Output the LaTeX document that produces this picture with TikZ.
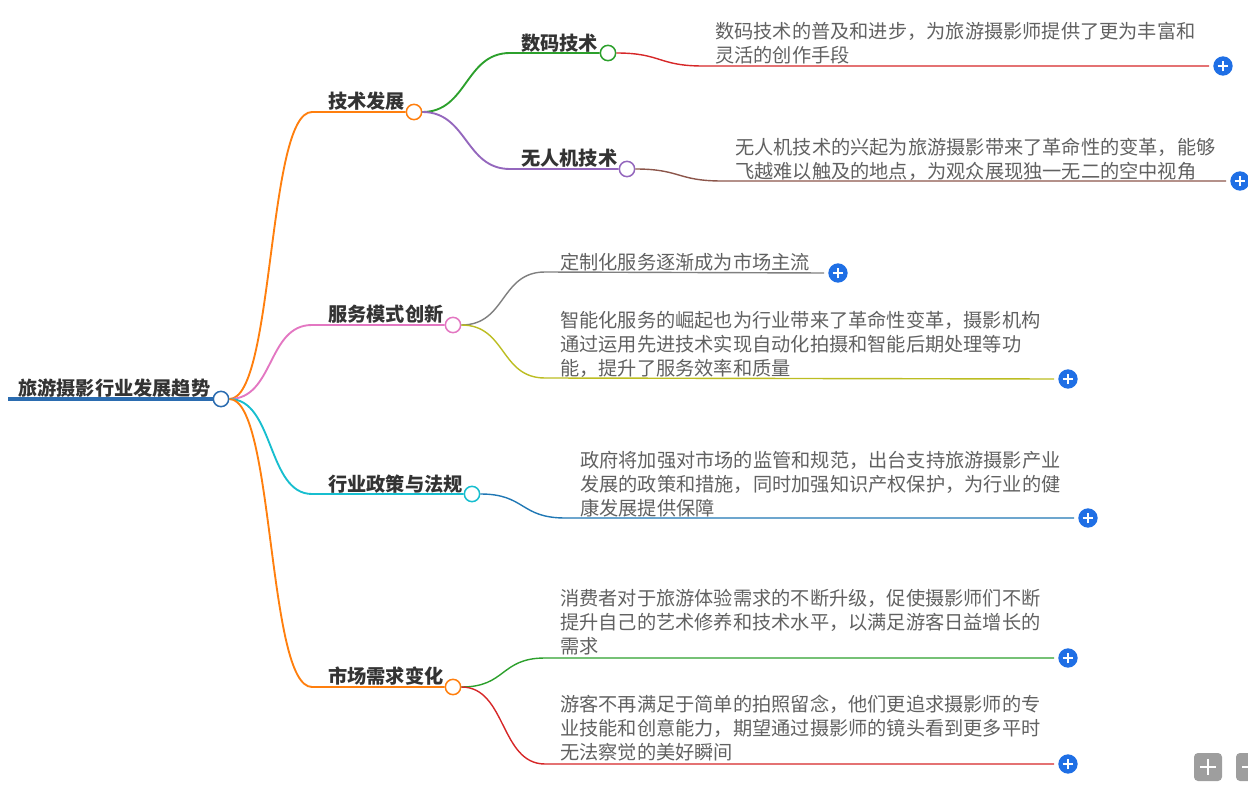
\documentclass[tikz,border=0pt]{standalone}
\usepackage{fontspec}
\setmainfont{Noto Sans CJK SC}
\usetikzlibrary{calc}
\usepackage{xcolor}
\definecolor{rootblue}{HTML}{2B6CB0}
\definecolor{corange}{HTML}{FF7F0E}
\definecolor{cpink}{HTML}{E377C2}
\definecolor{ccyan}{HTML}{17BECF}
\definecolor{cgreen}{HTML}{2CA02C}
\definecolor{cpurple}{HTML}{9467BD}
\definecolor{cred}{HTML}{D62728}
\definecolor{cbrown}{HTML}{8C564B}
\definecolor{cgray}{HTML}{7F7F7F}
\definecolor{colive}{HTML}{BCBD22}
\definecolor{cblue}{HTML}{1F77B4}
\definecolor{plusblue}{HTML}{1F6FE5}

\begin{document}
\begin{tikzpicture}[x=0.03cm, y=-0.03cm,
  every node/.style={inner sep=0pt, font=\fontsize{16.4}{20.5}\selectfont},
  topic/.style={anchor=north west, font=\fontsize{16.4}{20.5}\selectfont\bfseries, text=black!80},
  leaf/.style={anchor=north west, align=left, text=black!62},
  dot/.style={circle, draw=#1, fill=white, line width=1.3pt, minimum size=0.46cm},
  branch/.style={#1, line width=1.6pt},
  twig/.style={#1, line width=1.2pt},
  plus/.style={circle, fill=plusblue, minimum size=0.58cm,
    path picture={\draw[white, line width=1.4pt]
      ($(path picture bounding box.center)+(-0.16cm,0)$) -- ++(0.32cm,0)
      ($(path picture bounding box.center)+(0,-0.16cm)$) -- ++(0,0.32cm);}},
  btn/.style={rectangle, rounded corners=0.12cm, fill=black!38, minimum size=0.84cm}
]
  \useasboundingbox (0,0) rectangle (1248,790);

  % Root
  \node[topic] (root) at (18,379) {旅游摄影行业发展趋势};
  \coordinate (root-s) at (8,399);
  \node[dot=rootblue] (root-c) at (221,399) {};
  \draw[rootblue, line width=3.4pt] (root-s) -- (root-c.west);

  % Branches
  \node[topic] (tech) at (328,92) {技术发展};
  \coordinate (tech-s) at (312,112);
  \node[dot=corange] (tech-c) at (414,112) {};
  \draw[branch=corange] (root-c.east) .. controls +(45,0) and +(-45,0) .. (tech-s) -- (tech-c.west);

  \node[topic] (serv) at (328,305) {服务模式创新};
  \coordinate (serv-s) at (312,325);
  \node[dot=cpink] (serv-c) at (453,325) {};
  \draw[branch=cpink] (root-c.east) .. controls +(45,0) and +(-45,0) .. (serv-s) -- (serv-c.west);

  \node[topic] (policy) at (328,475) {行业政策与法规};
  \coordinate (policy-s) at (312,494);
  \node[dot=ccyan] (policy-c) at (472,494) {};
  \draw[branch=ccyan] (root-c.east) .. controls +(45,0) and +(-45,0) .. (policy-s) -- (policy-c.west);

  \node[topic] (market) at (328,667) {市场需求变化};
  \coordinate (market-s) at (312,687);
  \node[dot=corange] (market-c) at (453,687) {};
  \draw[branch=corange] (root-c.east) .. controls +(45,0) and +(-45,0) .. (market-s) -- (market-c.west);

  % Sub-branches of tech
  \node[topic] (digi) at (521,34) {数码技术};
  \coordinate (digi-s) at (510,53);
  \node[dot=cgreen] (digi-c) at (608,53) {};
  \draw[branch=cgreen] (tech-c.east) .. controls +(45,0) and +(-45,0) .. (digi-s) -- (digi-c.west);

  \node[topic] (drone) at (521,149) {无人机技术};
  \coordinate (drone-s) at (510,169);
  \node[dot=cpurple] (drone-c) at (627,169) {};
  \draw[branch=cpurple] (tech-c.east) .. controls +(45,0) and +(-45,0) .. (drone-s) -- (drone-c.west);

  % Leaves
  \node[leaf] (digi-t) at (715,22) {数码技术的普及和进步，为旅游摄影师提供了更为丰富和\\灵活的创作手段};
  \coordinate (digi-l) at (703,66);
  \node[plus] (digi-p) at (1223,66) {};
  \draw[twig=cred] (digi-c.east) .. controls +(45,0) and +(-45,0) .. (digi-l) -- ($(digi-p.west)+(-4,0)$);

  \node[leaf] (drone-t) at (735,138) {无人机技术的兴起为旅游摄影带来了革命性的变革，能够\\飞越难以触及的地点，为观众展现独一无二的空中视角};
  \coordinate (drone-l) at (722,181);
  \node[plus] (drone-p) at (1240,181) {};
  \draw[twig=cbrown] (drone-c.east) .. controls +(45,0) and +(-45,0) .. (drone-l) -- ($(drone-p.west)+(-4,0)$);

  \node[leaf] (custom-t) at (560,253) {定制化服务逐渐成为市场主流};
  \coordinate (custom-l) at (545,272);
  \node[plus] (custom-p) at (838,273) {};
  \draw[twig=cgray] (serv-c.east) .. controls +(45,0) and +(-45,0) .. (custom-l) -- ($(custom-p.west)+(-4,0)$);

  \node[leaf] (smart-t) at (560,311) {智能化服务的崛起也为行业带来了革命性变革，摄影机构\\通过运用先进技术实现自动化拍摄和智能后期处理等功\\能，提升了服务效率和质量};
  \coordinate (smart-l) at (545,378);
  \node[plus] (smart-p) at (1068,379) {};
  \draw[twig=colive] (serv-c.east) .. controls +(45,0) and +(-45,0) .. (smart-l) -- ($(smart-p.west)+(-4,0)$);

  \node[leaf] (govt-t) at (580,451) {政府将加强对市场的监管和规范，出台支持旅游摄影产业\\发展的政策和措施，同时加强知识产权保护，为行业的健\\康发展提供保障};
  \coordinate (govt-l) at (565,518);
  \node[plus] (govt-p) at (1088,518) {};
  \draw[twig=cblue] (policy-c.east) .. controls +(45,0) and +(-45,0) .. (govt-l) -- ($(govt-p.west)+(-4,0)$);

  \node[leaf] (demand-t) at (560,589) {消费者对于旅游体验需求的不断升级，促使摄影师们不断\\提升自己的艺术修养和技术水平，以满足游客日益增长的\\需求};
  \coordinate (demand-l) at (545,658);
  \node[plus] (demand-p) at (1068,658) {};
  \draw[twig=cgreen] (market-c.east) .. controls +(45,0) and +(-45,0) .. (demand-l) -- ($(demand-p.west)+(-4,0)$);

  \node[leaf] (expect-t) at (560,695) {游客不再满足于简单的拍照留念，他们更追求摄影师的专\\业技能和创意能力，期望通过摄影师的镜头看到更多平时\\无法察觉的美好瞬间};
  \coordinate (expect-l) at (545,764);
  \node[plus] (expect-p) at (1068,764) {};
  \draw[twig=cred] (market-c.east) .. controls +(45,0) and +(-45,0) .. (expect-l) -- ($(expect-p.west)+(-4,0)$);

  % Zoom buttons
  \node[btn] (zoom-in) at (1208,767) {};
  \draw[white, line width=1.6pt] ($(zoom-in.center)+(-8,0)$) -- ($(zoom-in.center)+(8,0)$)
    ($(zoom-in.center)+(0,-8)$) -- ($(zoom-in.center)+(0,8)$);
  \node[btn] (zoom-out) at (1250,767) {};
  \draw[white, line width=1.6pt] ($(zoom-out.center)+(-8,0)$) -- ($(zoom-out.center)+(8,0)$);
\end{tikzpicture}
\end{document}
